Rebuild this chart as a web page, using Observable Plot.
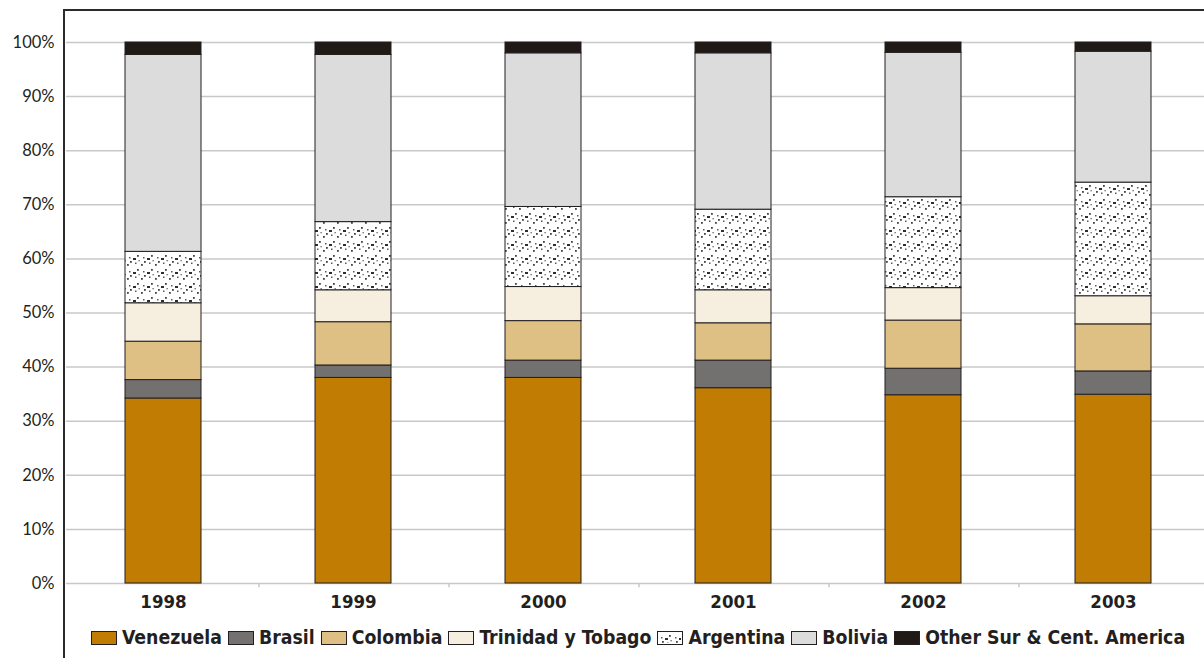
<!DOCTYPE html>
<html>
<head>
<meta charset="utf-8">
<script src="https://cdn.jsdelivr.net/npm/d3@7"></script>
<script src="https://cdn.jsdelivr.net/npm/@observablehq/plot@0.6"></script>
<style>
  html, body { margin: 0; padding: 0; background: #fff; }
  #wrap { position: relative; width: 1204px; height: 658px; overflow: hidden; }
  #frame { position: absolute; left: 63px; top: 9px; width: 1200px; height: 700px;
           border-top: 2px solid #2b2b2b; border-left: 2px solid #2b2b2b; pointer-events: none; }
  #chart { position: absolute; left: 0; top: 0; }
  #legend { position: absolute; left: 70px; top: 626px; width: 1136px; display: flex; justify-content: center;
            align-items: center; font-family: "Liberation Sans Narrow", "DejaVu Sans Condensed", "DejaVu Sans", sans-serif;
            font-stretch: condensed; font-weight: bold; font-size: 19.3px; color: #231f20; white-space: nowrap; }
  .item { display: flex; align-items: center; margin: 0 3px; }
  .sw { width: 26px; height: 14px; border: 1.5px solid #231f20; margin-right: 5px; box-sizing: border-box; }
</style>
</head>
<body>
<svg width="0" height="0" style="position:absolute">
  <defs>
    <pattern id="dots" patternUnits="userSpaceOnUse" width="14" height="14">
      <rect width="14" height="14" fill="#ffffff"/>
      <rect x="1" y="12" width="1.8" height="1.8" fill="#444"/>
      <rect x="4" y="9" width="1.8" height="1.8" fill="#444"/>
      <rect x="7" y="6" width="3" height="2" fill="#2e2e2e"/>
      <rect x="11" y="3" width="1.8" height="1.8" fill="#444"/>
      <rect x="3" y="5" width="1.5" height="1.5" fill="#5a5a5a"/>
      <rect x="9" y="10.5" width="1.5" height="1.5" fill="#5a5a5a"/>
      <rect x="12.5" y="8" width="1.3" height="1.3" fill="#666"/>
    </pattern>
  </defs>
</svg>
<div id="wrap">
  <div id="chart"></div>
  <div id="frame"></div>
  <div id="legend"></div>
</div>
<script>
const years = ["1998", "1999", "2000", "2001", "2002", "2003"];
const seriesNames = ["Venezuela", "Brasil", "Colombia", "Trinidad y Tobago", "Argentina", "Bolivia", "Other Sur & Cent. America"];
const venezuela = [34.2, 38.0, 38.0, 36.1, 34.8, 34.9];
const brasil    = [3.4, 2.3, 3.2, 5.1, 4.9, 4.3];
const colombia  = [7.1, 8.0, 7.3, 6.9, 8.9, 8.7];
const trinidad  = [7.1, 5.9, 6.3, 6.1, 6.0, 5.2];
const argentina = [9.5, 12.6, 14.8, 14.9, 16.8, 21.0];
const bolivia   = [36.4, 30.9, 28.4, 28.9, 26.7, 24.2];
const other     = [2.3, 2.3, 2.0, 2.0, 1.9, 1.7];
const yTicks = [0, 10, 20, 30, 40, 50, 60, 70, 80, 90, 100];
const colors = ["#c17d03", "#737170", "#dfc084", "#f6efe0", "url(#dots)", "#dcdcdc", "#201a17"];

const seriesValues = [venezuela, brasil, colombia, trinidad, argentina, bolivia, other];
const data = [];
seriesNames.forEach((s, i) => years.forEach((y, j) => data.push({year: y, series: s, value: seriesValues[i][j]})));

const chart = Plot.plot({
  width: 1204,
  height: 620,
  marginLeft: 66,
  marginRight: 0,
  marginTop: 42,
  marginBottom: 37,
  style: {fontFamily: "Lato, 'DejaVu Sans', sans-serif", color: "#231f20", background: "transparent"},
  x: {domain: years, range: [66, 1210], paddingInner: 0.6, paddingOuter: 0.3, axis: null},
  y: {domain: [0, 100], axis: null},
  color: {domain: seriesNames, range: colors},
  marks: [
    Plot.gridY(yTicks, {stroke: "#c8c8c8", strokeOpacity: 1, strokeWidth: 1.5}),
    Plot.ruleX(years.slice(0, -1), {x: d => d, dx: 95.5, y1: 0, y2: -0.8, stroke: "#c8c8c8", strokeWidth: 1.5}),
    Plot.barY(data, {x: "year", y: "value", fill: "series", z: "series", stroke: "#231f20", strokeWidth: 1}),
    Plot.axisY(yTicks, {label: null, tickSize: 0, tickPadding: 12, fontSize: 16.5, tickFormat: d => d + "%", fill: "#231f20"}),
    Plot.axisX(years, {label: null, tickSize: 0, tickPadding: 11, fontSize: 18.5, fontWeight: "bold",
      fontFamily: "'Liberation Sans Narrow', 'DejaVu Sans Condensed', sans-serif", fill: "#231f20"})
  ]
});
document.getElementById("chart").appendChild(chart);

const legend = document.getElementById("legend");
seriesNames.forEach((s, i) => {
  const item = document.createElement("div");
  item.className = "item";
  const sw = document.createElement("div");
  sw.className = "sw";
  if (i === 4) {
    sw.innerHTML = '<svg width="23" height="11" style="display:block"><rect width="23" height="11" fill="url(#dots)"/></svg>';
    sw.style.background = "#fff";
  } else {
    sw.style.background = colors[i];
  }
  const t = document.createElement("span");
  t.textContent = s;
  item.appendChild(sw);
  item.appendChild(t);
  legend.appendChild(item);
});
</script>
</body>
</html>
